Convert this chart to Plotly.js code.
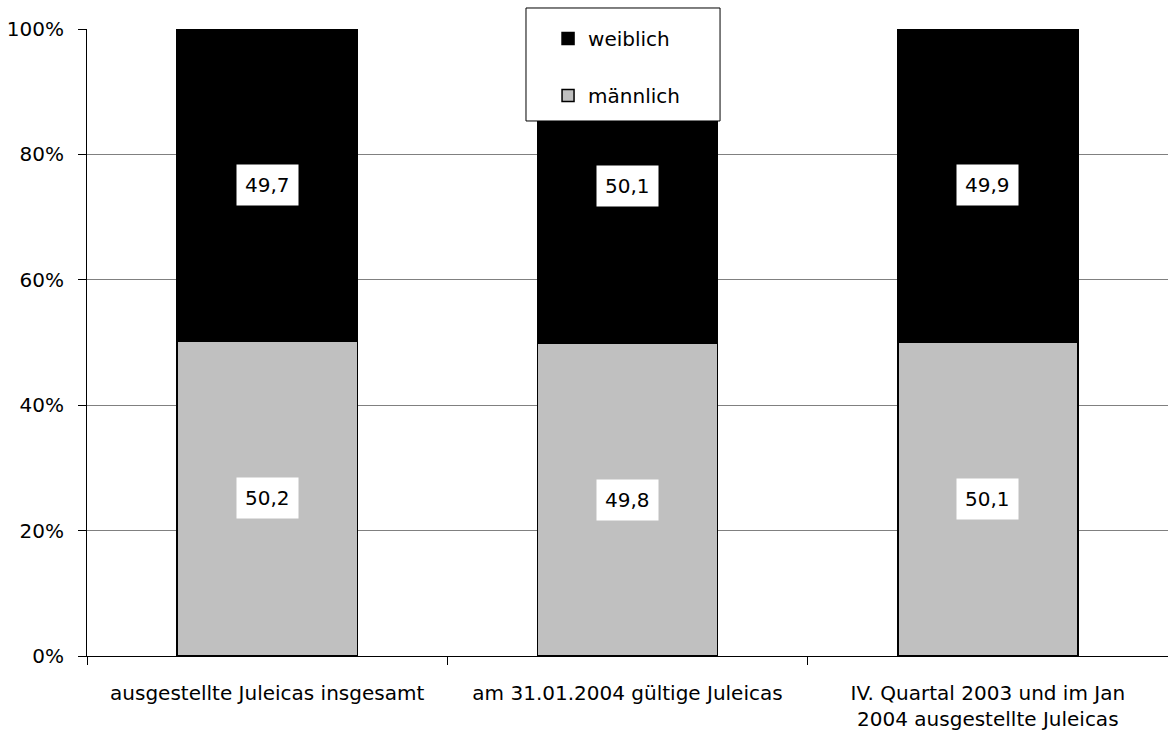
<!DOCTYPE html>
<html>
<head>
<meta charset="utf-8">
<script src="https://cdn.plot.ly/plotly-3.0.1.min.js"></script>
<style>html,body{margin:0;padding:0;background:#fff;}#chart{width:1168px;height:735px;}</style>
</head>
<body>
<div id="chart"></div>
<script>
const categories = [
  "ausgestellte Juleicas insgesamt",
  "am 31.01.2004 gültige Juleicas",
  "IV. Quartal 2003 und im Jan<br>2004 ausgestellte Juleicas"
];
const maennlich = [50.2, 49.8, 50.1];
const weiblich = [49.7, 50.1, 49.9];
const yTickVals = [0, 20, 40, 60, 80, 100];
const yTickText = ["0%", "20%", "40%", "60%", "80%", "100%"];

const FONT = "'DejaVu Sans', sans-serif";
const fmt = v => v.toFixed(1).replace('.', ',');

const traces = [
  {
    type: 'bar', name: 'männlich', x: categories, y: maennlich,
    marker: {color: '#c0c0c0', line: {color: '#000', width: 1.5}},
    width: 0.5, legendgroup: 'm', legendrank: 2, hoverinfo: 'skip'
  },
  {
    type: 'bar', name: 'weiblich', x: categories, y: weiblich,
    marker: {color: '#000000', line: {color: '#000', width: 1.5}},
    width: 0.5, legendgroup: 'w', legendrank: 1, hoverinfo: 'skip'
  }
];

const annotations = [];
categories.forEach((c, i) => {
  const tot = maennlich[i] + weiblich[i];
  const mN = maennlich[i] / tot * 100;
  const wN = weiblich[i] / tot * 100;
  annotations.push({x: c, y: mN / 2, xref: 'x', yref: 'y', text: fmt(maennlich[i]), showarrow: false,
    bgcolor: '#fff', borderpad: 8, font: {family: FONT, size: 20, color: '#000'}});
  annotations.push({x: c, y: mN + wN / 2, xref: 'x', yref: 'y', text: fmt(weiblich[i]), showarrow: false,
    bgcolor: '#fff', borderpad: 8, font: {family: FONT, size: 20, color: '#000'}});
});

const layout = {
  width: 1168, height: 735,
  margin: {l: 87, r: 0, t: 29, b: 79},
  barmode: 'stack', barnorm: 'percent',
  paper_bgcolor: '#fff', plot_bgcolor: '#fff',
  font: {family: FONT, size: 20, color: '#000'},
  showlegend: true,
  legend: {
    x: 0.4265, xanchor: 'left', y: 1.016, yanchor: 'top',
    traceorder: 'grouped', tracegroupgap: 28,
    bgcolor: 'rgba(0,0,0,0)', borderwidth: 0,
    font: {family: FONT, size: 20, color: '#000'},
    itemwidth: 30
  },
  shapes: [{
    type: 'rect', xref: 'paper', yref: 'paper', layer: 'above',
    x0: 0.4061, x1: 0.5856, y0: 0.8533, y1: 1.0335,
    fillcolor: '#fff', line: {color: '#000', width: 1}
  }],
  xaxis: {
    type: 'category', tickson: 'boundaries', ticks: 'outside', ticklen: 8, tickcolor: '#000',
    showline: true, linecolor: '#000', linewidth: 1, showgrid: false,
    ticklabelstandoff: 19, tickfont: {family: FONT, size: 20, color: '#000'}
  },
  yaxis: {
    range: [0, 100], tickvals: yTickVals, ticktext: yTickText,
    ticks: 'outside', ticklen: 8, tickcolor: '#000',
    showline: true, linecolor: '#000', linewidth: 1,
    showgrid: true, gridcolor: '#808080', gridwidth: 1, zeroline: false,
    ticklabelstandoff: 10, tickfont: {family: FONT, size: 20, color: '#000'}
  },
  annotations: annotations
};

Plotly.newPlot('chart', traces, layout, {displayModeBar: false, staticPlot: true});
</script>
</body>
</html>
